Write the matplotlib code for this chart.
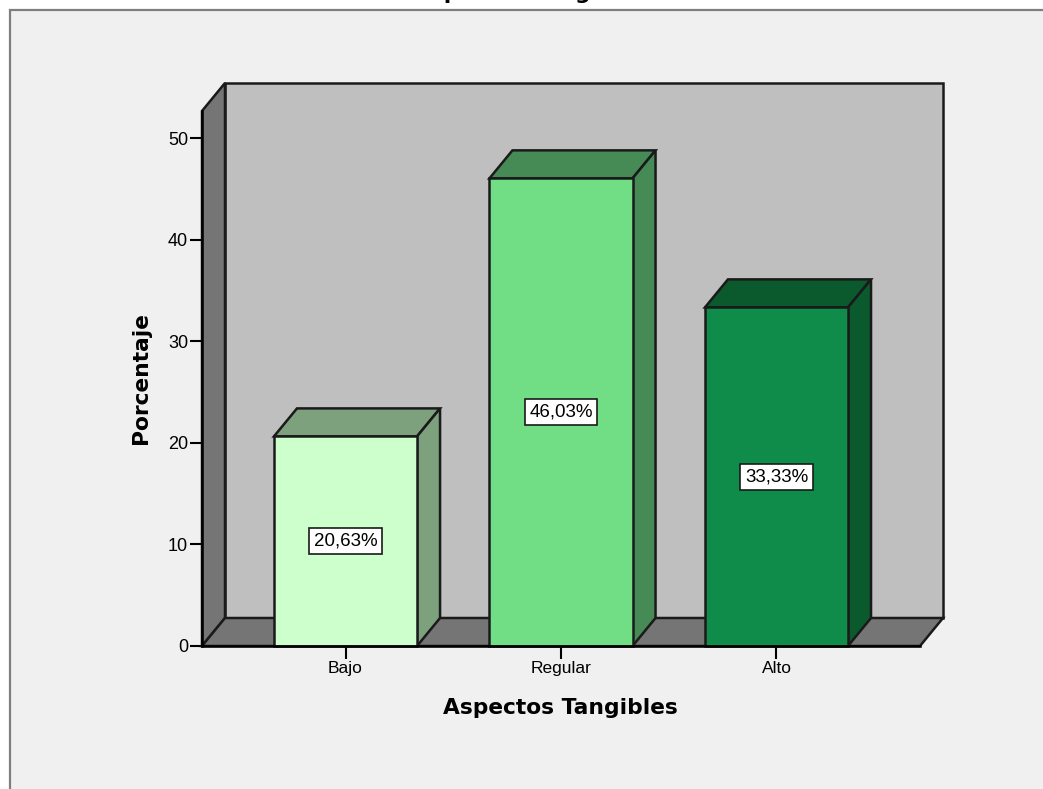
import matplotlib
matplotlib.use('Agg')
from matplotlib import pyplot as plt
from matplotlib.patches import Polygon, Rectangle

# values
categories = ['Bajo', 'Regular', 'Alto']
percentages = [20.63, 46.03, 33.33]
value_labels = ['20,63%', '46,03%', '33,33%']
y_ticks = [0, 10, 20, 30, 40, 50]
front_colors = ['#ccffcc', '#71de86', '#0f8c49']
side_colors = ['#7da07d', '#468b55', '#0a5a2e']

W, H = 1043, 789
# depth of the fake 3D box, in data units
depth_x = 0.1067
depth_y = 2.756
x_lim = (-0.666, 2.666)
y_top = 52.66
bar_width = 0.664
edge = '#1a1a1a'

plt.rcParams['font.family'] = ['Liberation Sans', 'DejaVu Sans']
fig = plt.figure(figsize=(W / 100, H / 100), dpi=100, facecolor='white')
fig.patches.append(Rectangle((9.5 / W, -0.01), 1.1, 1 - 10.5 / H + 0.01, transform=fig.transFigure,
                             facecolor='#f0f0f0', edgecolor='#7f7f7f', linewidth=1.6, zorder=-1))

ax = fig.add_axes([202 / W, (H - 646) / H, 718 / W, 535 / H])
ax.set_xlim(x_lim)
ax.set_ylim(0, y_top)
ax.patch.set_visible(False)


def poly(points, color, z, lw=1.8):
    ax.add_patch(Polygon(points, closed=True, facecolor=color, edgecolor=edge,
                         linewidth=lw, zorder=z, clip_on=False, joinstyle='miter'))


# walls and floor
x0, x1 = x_lim
poly([(x0 + depth_x, depth_y), (x1 + depth_x, depth_y), (x1 + depth_x, y_top + depth_y),
      (x0 + depth_x, y_top + depth_y)], '#bfbfbf', 1)
poly([(x0, 0), (x0 + depth_x, depth_y), (x0 + depth_x, y_top + depth_y), (x0, y_top)], '#757575', 2)
poly([(x0, 0), (x1, 0), (x1 + depth_x, depth_y), (x0 + depth_x, depth_y)], '#757575', 2)

# bars
for i, v in enumerate(percentages):
    a = i - bar_width / 2
    b = i + bar_width / 2
    poly([(a, v), (b, v), (b + depth_x, v + depth_y), (a + depth_x, v + depth_y)], side_colors[i], 3)
    poly([(b, 0), (b + depth_x, depth_y), (b + depth_x, v + depth_y), (b, v)], side_colors[i], 3)
    poly([(a, 0), (b, 0), (b, v), (a, v)], front_colors[i], 4)
    ax.text(i, v / 2, value_labels[i], ha='center', va='center', fontsize=13.5, color='black', zorder=6,
            bbox=dict(boxstyle='square,pad=0.25', facecolor='white', edgecolor=edge, linewidth=1.2))

for name in ['top', 'right']:
    ax.spines[name].set_visible(False)
for name in ['left', 'bottom']:
    ax.spines[name].set_linewidth(1.8)
    ax.spines[name].set_color('black')
    ax.spines[name].set_zorder(5)

ax.set_xticks(range(len(categories)))
ax.set_xticklabels(categories)
ax.set_yticks(y_ticks)
ax.tick_params(axis='x', length=9, width=1.5, pad=2, labelsize=12.5, color='black')
ax.tick_params(axis='y', length=9, width=1.5, pad=1, labelsize=13, color='black')

bold_font = ['DejaVu Sans']
fig.text(560 / W, (H - 708) / H, 'Aspectos Tangibles', ha='center', va='center',
         fontsize=15.7, fontweight='bold', family=bold_font)
fig.text(141 / W, (H - 378) / H, 'Porcentaje', ha='center', va='center', rotation=90,
         fontsize=15.7, fontweight='bold', family=bold_font)
# title cut off by the top edge of the image, only the descenders show
fig.text(531 / W, 1 + 1 / H, 'Aspectos Tangibles', ha='center', va='baseline',
         fontsize=15.7, fontweight='bold', family=bold_font)

fig.savefig('out.png', dpi=100, facecolor=fig.get_facecolor())
